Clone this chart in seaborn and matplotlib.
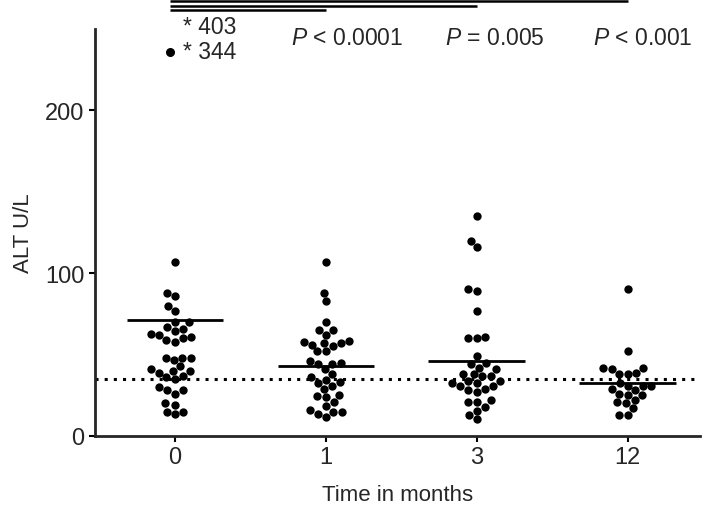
import numpy as np
import pandas as pd
import seaborn as sns
import matplotlib
matplotlib.use("Agg")
from matplotlib import pyplot as plt

# ALT values per time point (U/L)
months = ["0", "1", "3", "12"]
alt_0 = [107, 86, 88, 80, 77, 70, 70, 66, 64.6, 67, 62, 60.5, 58, 59, 61, 62.6,
         48, 46.6, 48, 48, 40, 41, 43, 39, 40, 36, 35, 37, 28, 26, 28, 30,
         20, 19, 15, 13.5, 15]
alt_1 = [107, 88, 83, 70, 65, 65, 62, 57, 55, 58.5, 58, 56, 57, 52, 52,
         46, 44, 44, 45, 41, 38, 34.5, 32.5, 31, 33, 36, 29, 25, 24.7, 24,
         21, 18.6, 16, 14.5, 11.5, 13.5, 15]
alt_3 = [135, 120, 116, 89, 90, 77, 61, 60, 60, 49, 45, 44, 41, 42,
         38, 37, 36.6, 38, 34, 32.5, 31, 32.5, 34, 29, 28, 27, 30.5,
         22, 21, 21, 15.5, 18, 10.4, 13]
alt_12 = [90, 52, 42, 41, 42, 38, 39, 38, 30.5, 29, 32.5, 30.5, 30.5,
          25, 26, 28, 25, 21, 20, 22, 17, 13, 13]
group_lines = [71, 43, 46, 32.5]
upper_normal = 35
offscale_labels = ["* 403", "* 344"]
offscale_marker = 236
p_labels = ["< 0.0001", "= 0.005", "< 0.001"]

df = pd.DataFrame({
    "month": sum([[m] * len(v) for m, v in zip(months, [alt_0, alt_1, alt_3, alt_12])], []),
    "alt": alt_0 + alt_1 + alt_3 + alt_12,
})

sns.set_style("ticks")
plt.rcParams["font.family"] = ["Liberation Sans", "DejaVu Sans"]
plt.rcParams["mathtext.fontset"] = "custom"
plt.rcParams["mathtext.it"] = "Liberation Sans:italic"
plt.rcParams["mathtext.rm"] = "Liberation Sans"

fig = plt.figure(figsize=(7.09, 5.10), dpi=100)
ax = fig.add_axes([95 / 709, 73 / 510, 605 / 709, 407 / 510])
ax.set_ylim(0, 250)
ax.set_xlim(-0.53, 3.48)

sns.swarmplot(data=df, x="month", y="alt", order=months, color="black",
              size=6, ax=ax)
ax.set_xlim(-0.53, 3.48)
ax.set_ylim(0, 250)

for i, val in enumerate(group_lines):
    ax.hlines(val, i - 0.32, i + 0.32, color="black", lw=2)
ax.axhline(upper_normal, color="black", lw=2.2, linestyle=(0, (1, 2)))

# off-scale values at baseline
ax.scatter([-0.03], [offscale_marker], color="black", s=30, zorder=3)
ax.text(0.05, 251.5, offscale_labels[0], fontsize=16.5, va="center", ha="left")
ax.text(0.05, 236, offscale_labels[1], fontsize=16.5, va="center", ha="left")

# comparison brackets and p values
for k, (end, yl) in enumerate(zip([3, 2, 1], [267, 264.2, 261.4])):
    ax.plot([-0.03, end], [yl, yl], color="black", lw=1.8, clip_on=False,
            solid_capstyle="butt")
for k, txt in enumerate(p_labels):
    ax.text(k + 1.14 - 0.02 * k, 245, r"$\it{P}$ " + txt, fontsize=16.5,
            ha="center", va="center")

ax.set_yticks([0, 100, 200])
ax.set_xlabel("Time in months", fontsize=16, labelpad=11)
ax.set_ylabel("ALT U/L", fontsize=16, labelpad=8)
ax.tick_params(labelsize=17, width=1.5, length=4, color="black")
for s in ["left", "bottom"]:
    ax.spines[s].set_linewidth(2)
sns.despine(ax=ax)

fig.savefig("out.png", dpi=100, facecolor="white")
